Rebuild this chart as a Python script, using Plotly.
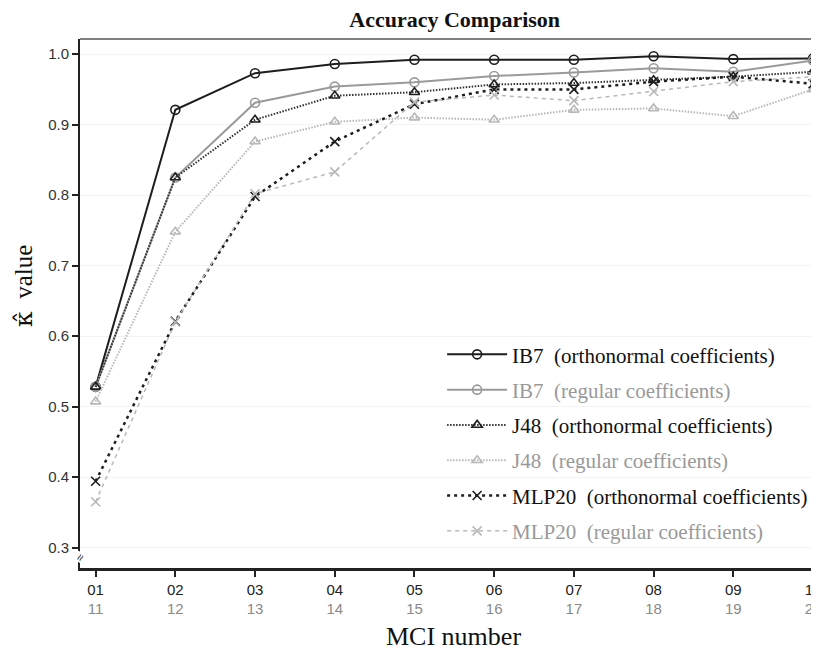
import plotly.graph_objects as go

mci_top = ["01", "02", "03", "04", "05", "06", "07", "08", "09", "10"]
mci_bottom = ["11", "12", "13", "14", "15", "16", "17", "18", "19", "20"]
x_pos = [1, 2, 3, 4, 5, 6, 7, 8, 9, 10]

ib7_orth = [0.528, 0.921, 0.973, 0.986, 0.992, 0.992, 0.992, 0.997, 0.993, 0.994]
ib7_reg = [0.528, 0.825, 0.931, 0.954, 0.960, 0.969, 0.974, 0.980, 0.975, 0.991]
j48_orth = [0.528, 0.825, 0.907, 0.941, 0.946, 0.957, 0.959, 0.963, 0.968, 0.975]
j48_reg = [0.507, 0.748, 0.876, 0.904, 0.910, 0.907, 0.921, 0.923, 0.912, 0.950]
mlp_orth = [0.394, 0.621, 0.798, 0.876, 0.929, 0.950, 0.950, 0.961, 0.968, 0.958]
mlp_reg = [0.365, 0.620, 0.802, 0.833, 0.932, 0.942, 0.934, 0.947, 0.961, 0.968]

DARK = "#1e1e1e"
MID = "#9a9a9a"
LIGHT = "#b8b8b8"

series = [
    ("IB7  (orthonormal coefficients)", ib7_orth, DARK, "solid", 2, "circle-open", DARK, False),
    ("IB7  (regular coefficients)", ib7_reg, MID, "solid", 2, "circle-open", MID, True),
    ("J48  (orthonormal coefficients)", j48_orth, "#333333", "1.5px,1.5px", 2, "triangle-up-open", DARK, False),
    ("J48  (regular coefficients)", j48_reg, LIGHT, "1.5px,1.5px", 2, "triangle-up-open", LIGHT, True),
    ("MLP20  (orthonormal coefficients)", mlp_orth, DARK, "3px,4px", 2.5, "x-thin-open", DARK, False),
    ("MLP20  (regular coefficients)", mlp_reg, LIGHT, "4px,4px", 1.5, "x-thin-open", LIGHT, True),
]

fig = go.Figure()
for i, (name, vals, color, dash, w, sym, mcolor, grey_text) in enumerate(series):
    label = f"<span style='color:#999999'>{name}</span>" if grey_text else name
    fig.add_trace(go.Scatter(
        x=x_pos, y=vals, mode="lines+markers", name=label,
        legendgroup=f"g{i}",
        line=dict(color=color, dash=dash, width=w),
        marker=dict(symbol=sym, size=9, color=mcolor, line=dict(color=mcolor, width=1.6)),
    ))

ticktext = [f"{a}<br><span style='color:#8a8a8a'>{b}</span>" for a, b in zip(mci_top, mci_bottom)]

# page is drawn with an 8px body margin, so the figure is sized 8px smaller
W, H = 811, 646

fig.update_layout(
    width=W, height=H,
    margin=dict(l=72, r=0, t=30.5, b=86),
    paper_bgcolor="white", plot_bgcolor="white",
    showlegend=True,
    title=dict(text="<b>Accuracy Comparison</b>", x=0.507, xref="paper", xanchor="center",
               y=1 - 11 / H, yref="container", yanchor="middle",
               font=dict(family="Liberation Serif", size=22, color="#111111")),
    legend=dict(x=0.49, y=0.442, xanchor="left", yanchor="top",
                font=dict(family="Liberation Serif", size=21, color="#111111"),
                bgcolor="rgba(255,255,255,0)", borderwidth=0,
                tracegroupgap=5, traceorder="grouped", itemwidth=60),
    xaxis=dict(range=[0.804, 10.075], tickmode="array", tickvals=x_pos, ticktext=ticktext,
               showline=True, linecolor="#222222", linewidth=2.5, mirror=False,
               ticks="outside", ticklen=6, tickwidth=2, tickcolor="#222222",
               ticklabeloverflow="allow",
               showgrid=False, zeroline=False, automargin=False,
               tickfont=dict(family="Liberation Sans", size=15, color="#222222")),
    yaxis=dict(range=[0.271, 1.0215], tickmode="array",
               tickvals=[0.3, 0.4, 0.5, 0.6, 0.7, 0.8, 0.9, 1.0],
               ticktext=["0.3", "0.4", "0.5", "0.6", "0.7", "0.8", "0.9", "1.0"],
               showline=True, linecolor="#222222", linewidth=2, mirror=False,
               ticks="outside", ticklen=6, tickwidth=2, tickcolor="#222222",
               showgrid=True, gridcolor="#f4f4f4", zeroline=False, automargin=False,
               tickfont=dict(family="Liberation Sans", size=15, color="#333333")),
    shapes=[dict(type="line", xref="paper", yref="paper", x0=0, x1=1, y0=1, y1=1,
                 line=dict(color="#555555", width=1.5))],
    annotations=[
        dict(text="MCI number", xref="paper", yref="paper", x=0.506, y=-0.130,
             xanchor="center", yanchor="middle", showarrow=False,
             font=dict(family="Liberation Serif", size=26, color="#111111")),
        dict(text="<span style='font-family:DejaVu Serif'>κ̂</span>  value", xref="paper", yref="paper",
             x=-0.0765, y=0.534,
             xanchor="center", yanchor="middle", showarrow=False, textangle=-90,
             font=dict(family="Liberation Serif", size=25, color="#111111")),
        dict(text="≈", xref="paper", yref="paper", x=0, y=0.019,
             xanchor="center", yanchor="middle", showarrow=False, textangle=-60,
             font=dict(family="Liberation Sans", size=12, color="#222222"),
             bgcolor="white"),
    ],
)

fig.write_html("out.html")
